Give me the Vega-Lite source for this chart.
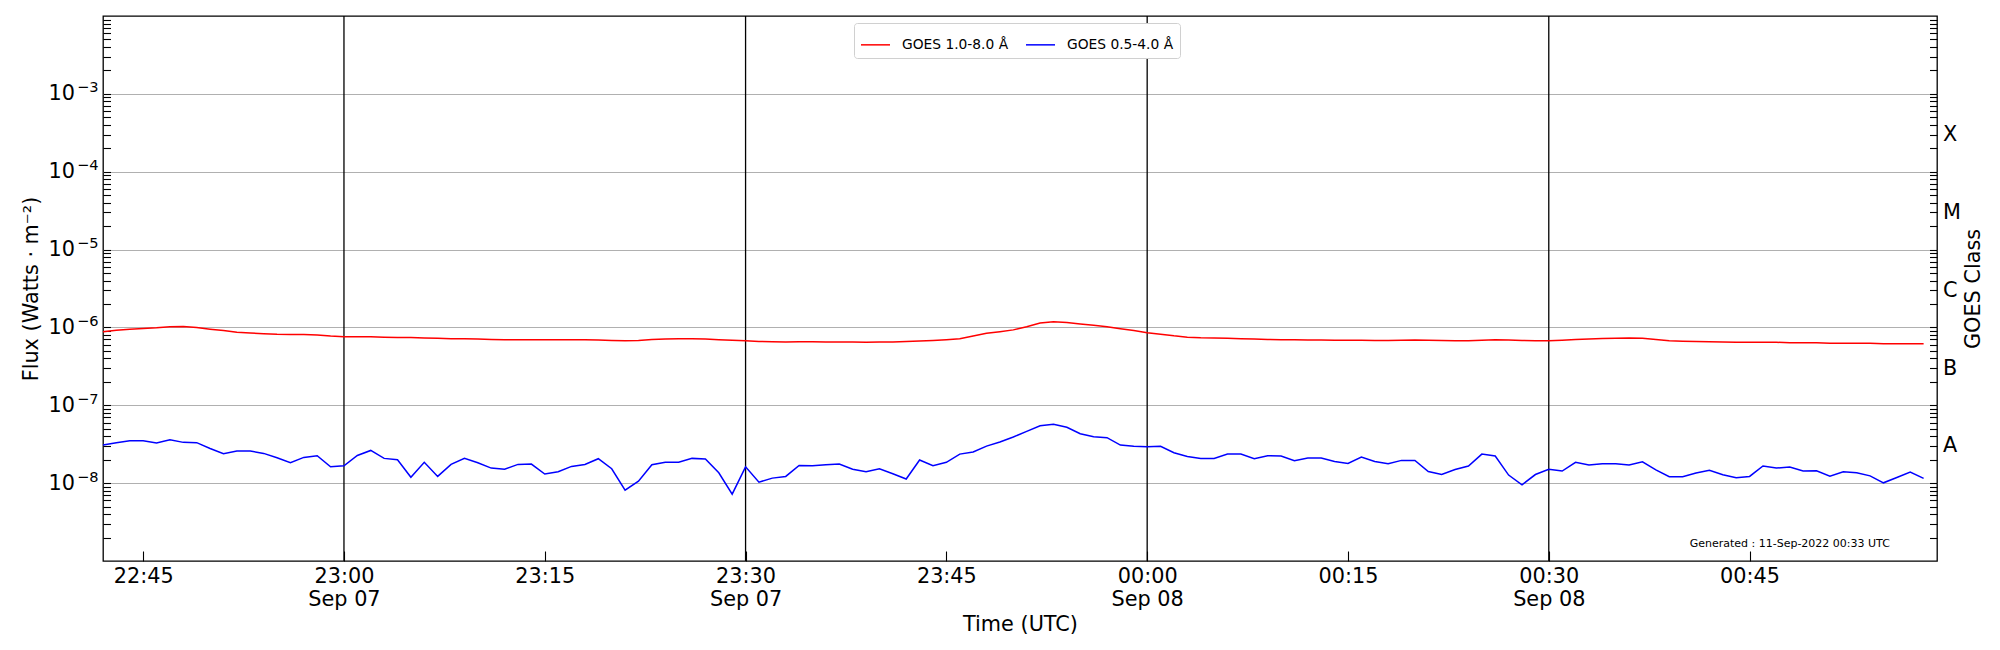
{
  "$schema": "https://vega.github.io/schema/vega-lite/v6.json",
  "width": 1834,
  "height": 545,
  "autosize": {"type": "none"},
  "padding": {"left": 103, "top": 16, "right": 63, "bottom": 89},
  "background": "white",
  "config": {
    "font": "DejaVu Sans",
    "view": {"stroke": "black", "strokeWidth": 1.3},
    "axis": {
      "domain": false,
      "labelFont": "DejaVu Sans",
      "titleFont": "DejaVu Sans",
      "labelFontSize": 20.8,
      "titleFontSize": 20.8,
      "titleFontWeight": "normal",
      "labelColor": "black",
      "titleColor": "black",
      "tickColor": "black",
      "tickWidth": 1.1
    },
    "legend": {
      "orient": "none",
      "legendX": 751,
      "legendY": 7,
      "direction": "horizontal",
      "symbolType": "stroke",
      "symbolSize": 841,
      "symbolStrokeWidth": 1.5,
      "labelFont": "DejaVu Sans",
      "labelFontSize": 13.8,
      "labelColor": "black",
      "labelOffset": 11,
      "columnPadding": 14,
      "padding": 6,
      "strokeColor": "#d0d0d0",
      "fillColor": "white",
      "cornerRadius": 3
    }
  },
  "data": {"values": [
    {"time": "2022-09-07T22:42:00Z", "xrsb": 8.8e-7, "xrsa": 3.08e-8},
    {"time": "2022-09-07T22:43:00Z", "xrsb": 9.2e-7, "xrsa": 3.31e-8},
    {"time": "2022-09-07T22:44:00Z", "xrsb": 9.5e-7, "xrsa": 3.51e-8},
    {"time": "2022-09-07T22:45:00Z", "xrsb": 9.7e-7, "xrsa": 3.51e-8},
    {"time": "2022-09-07T22:46:00Z", "xrsb": 9.9e-7, "xrsa": 3.27e-8},
    {"time": "2022-09-07T22:47:00Z", "xrsb": 1.02e-6, "xrsa": 3.61e-8},
    {"time": "2022-09-07T22:48:00Z", "xrsb": 1.03e-6, "xrsa": 3.34e-8},
    {"time": "2022-09-07T22:49:00Z", "xrsb": 1.0e-6, "xrsa": 3.31e-8},
    {"time": "2022-09-07T22:50:00Z", "xrsb": 9.5e-7, "xrsa": 2.79e-8},
    {"time": "2022-09-07T22:51:00Z", "xrsb": 9.1e-7, "xrsa": 2.39e-8},
    {"time": "2022-09-07T22:52:00Z", "xrsb": 8.7e-7, "xrsa": 2.58e-8},
    {"time": "2022-09-07T22:53:00Z", "xrsb": 8.5e-7, "xrsa": 2.58e-8},
    {"time": "2022-09-07T22:54:00Z", "xrsb": 8.3e-7, "xrsa": 2.41e-8},
    {"time": "2022-09-07T22:55:00Z", "xrsb": 8.15e-7, "xrsa": 2.12e-8},
    {"time": "2022-09-07T22:56:00Z", "xrsb": 8.1e-7, "xrsa": 1.83e-8},
    {"time": "2022-09-07T22:57:00Z", "xrsb": 8.1e-7, "xrsa": 2.14e-8},
    {"time": "2022-09-07T22:58:00Z", "xrsb": 8.0e-7, "xrsa": 2.25e-8},
    {"time": "2022-09-07T22:59:00Z", "xrsb": 7.75e-7, "xrsa": 1.62e-8},
    {"time": "2022-09-07T23:00:00Z", "xrsb": 7.6e-7, "xrsa": 1.67e-8},
    {"time": "2022-09-07T23:01:00Z", "xrsb": 7.6e-7, "xrsa": 2.27e-8},
    {"time": "2022-09-07T23:02:00Z", "xrsb": 7.6e-7, "xrsa": 2.63e-8},
    {"time": "2022-09-07T23:03:00Z", "xrsb": 7.5e-7, "xrsa": 2.08e-8},
    {"time": "2022-09-07T23:04:00Z", "xrsb": 7.45e-7, "xrsa": 2.0e-8},
    {"time": "2022-09-07T23:05:00Z", "xrsb": 7.4e-7, "xrsa": 1.19e-8},
    {"time": "2022-09-07T23:06:00Z", "xrsb": 7.3e-7, "xrsa": 1.85e-8},
    {"time": "2022-09-07T23:07:00Z", "xrsb": 7.25e-7, "xrsa": 1.22e-8},
    {"time": "2022-09-07T23:08:00Z", "xrsb": 7.15e-7, "xrsa": 1.74e-8},
    {"time": "2022-09-07T23:09:00Z", "xrsb": 7.15e-7, "xrsa": 2.08e-8},
    {"time": "2022-09-07T23:10:00Z", "xrsb": 7.1e-7, "xrsa": 1.83e-8},
    {"time": "2022-09-07T23:11:00Z", "xrsb": 7.0e-7, "xrsa": 1.56e-8},
    {"time": "2022-09-07T23:12:00Z", "xrsb": 6.95e-7, "xrsa": 1.51e-8},
    {"time": "2022-09-07T23:13:00Z", "xrsb": 6.95e-7, "xrsa": 1.74e-8},
    {"time": "2022-09-07T23:14:00Z", "xrsb": 6.95e-7, "xrsa": 1.76e-8},
    {"time": "2022-09-07T23:15:00Z", "xrsb": 6.95e-7, "xrsa": 1.31e-8},
    {"time": "2022-09-07T23:16:00Z", "xrsb": 6.95e-7, "xrsa": 1.4e-8},
    {"time": "2022-09-07T23:17:00Z", "xrsb": 6.95e-7, "xrsa": 1.64e-8},
    {"time": "2022-09-07T23:18:00Z", "xrsb": 6.95e-7, "xrsa": 1.74e-8},
    {"time": "2022-09-07T23:19:00Z", "xrsb": 6.9e-7, "xrsa": 2.06e-8},
    {"time": "2022-09-07T23:20:00Z", "xrsb": 6.8e-7, "xrsa": 1.53e-8},
    {"time": "2022-09-07T23:21:00Z", "xrsb": 6.75e-7, "xrsa": 8.13e-9},
    {"time": "2022-09-07T23:22:00Z", "xrsb": 6.8e-7, "xrsa": 1.06e-8},
    {"time": "2022-09-07T23:23:00Z", "xrsb": 7.0e-7, "xrsa": 1.72e-8},
    {"time": "2022-09-07T23:24:00Z", "xrsb": 7.1e-7, "xrsa": 1.86e-8},
    {"time": "2022-09-07T23:25:00Z", "xrsb": 7.15e-7, "xrsa": 1.85e-8},
    {"time": "2022-09-07T23:26:00Z", "xrsb": 7.15e-7, "xrsa": 2.08e-8},
    {"time": "2022-09-07T23:27:00Z", "xrsb": 7.1e-7, "xrsa": 2.04e-8},
    {"time": "2022-09-07T23:28:00Z", "xrsb": 6.95e-7, "xrsa": 1.36e-8},
    {"time": "2022-09-07T23:29:00Z", "xrsb": 6.85e-7, "xrsa": 7.22e-9},
    {"time": "2022-09-07T23:30:00Z", "xrsb": 6.75e-7, "xrsa": 1.62e-8},
    {"time": "2022-09-07T23:31:00Z", "xrsb": 6.6e-7, "xrsa": 1.03e-8},
    {"time": "2022-09-07T23:32:00Z", "xrsb": 6.55e-7, "xrsa": 1.16e-8},
    {"time": "2022-09-07T23:33:00Z", "xrsb": 6.5e-7, "xrsa": 1.22e-8},
    {"time": "2022-09-07T23:34:00Z", "xrsb": 6.55e-7, "xrsa": 1.69e-8},
    {"time": "2022-09-07T23:35:00Z", "xrsb": 6.55e-7, "xrsa": 1.67e-8},
    {"time": "2022-09-07T23:36:00Z", "xrsb": 6.5e-7, "xrsa": 1.72e-8},
    {"time": "2022-09-07T23:37:00Z", "xrsb": 6.5e-7, "xrsa": 1.76e-8},
    {"time": "2022-09-07T23:38:00Z", "xrsb": 6.5e-7, "xrsa": 1.51e-8},
    {"time": "2022-09-07T23:39:00Z", "xrsb": 6.45e-7, "xrsa": 1.4e-8},
    {"time": "2022-09-07T23:40:00Z", "xrsb": 6.5e-7, "xrsa": 1.53e-8},
    {"time": "2022-09-07T23:41:00Z", "xrsb": 6.5e-7, "xrsa": 1.32e-8},
    {"time": "2022-09-07T23:42:00Z", "xrsb": 6.6e-7, "xrsa": 1.13e-8},
    {"time": "2022-09-07T23:43:00Z", "xrsb": 6.7e-7, "xrsa": 1.98e-8},
    {"time": "2022-09-07T23:44:00Z", "xrsb": 6.8e-7, "xrsa": 1.67e-8},
    {"time": "2022-09-07T23:45:00Z", "xrsb": 6.95e-7, "xrsa": 1.85e-8},
    {"time": "2022-09-07T23:46:00Z", "xrsb": 7.15e-7, "xrsa": 2.36e-8},
    {"time": "2022-09-07T23:47:00Z", "xrsb": 7.75e-7, "xrsa": 2.51e-8},
    {"time": "2022-09-07T23:48:00Z", "xrsb": 8.4e-7, "xrsa": 2.99e-8},
    {"time": "2022-09-07T23:49:00Z", "xrsb": 8.8e-7, "xrsa": 3.37e-8},
    {"time": "2022-09-07T23:50:00Z", "xrsb": 9.3e-7, "xrsa": 3.91e-8},
    {"time": "2022-09-07T23:51:00Z", "xrsb": 1.02e-6, "xrsa": 4.63e-8},
    {"time": "2022-09-07T23:52:00Z", "xrsb": 1.14e-6, "xrsa": 5.47e-8},
    {"time": "2022-09-07T23:53:00Z", "xrsb": 1.18e-6, "xrsa": 5.69e-8},
    {"time": "2022-09-07T23:54:00Z", "xrsb": 1.16e-6, "xrsa": 5.21e-8},
    {"time": "2022-09-07T23:55:00Z", "xrsb": 1.11e-6, "xrsa": 4.32e-8},
    {"time": "2022-09-07T23:56:00Z", "xrsb": 1.07e-6, "xrsa": 3.95e-8},
    {"time": "2022-09-07T23:57:00Z", "xrsb": 1.02e-6, "xrsa": 3.84e-8},
    {"time": "2022-09-07T23:58:00Z", "xrsb": 9.6e-7, "xrsa": 3.08e-8},
    {"time": "2022-09-07T23:59:00Z", "xrsb": 9.1e-7, "xrsa": 2.97e-8},
    {"time": "2022-09-08T00:00:00Z", "xrsb": 8.55e-7, "xrsa": 2.94e-8},
    {"time": "2022-09-08T00:01:00Z", "xrsb": 8.2e-7, "xrsa": 2.97e-8},
    {"time": "2022-09-08T00:02:00Z", "xrsb": 7.8e-7, "xrsa": 2.46e-8},
    {"time": "2022-09-08T00:03:00Z", "xrsb": 7.5e-7, "xrsa": 2.2e-8},
    {"time": "2022-09-08T00:04:00Z", "xrsb": 7.35e-7, "xrsa": 2.08e-8},
    {"time": "2022-09-08T00:05:00Z", "xrsb": 7.3e-7, "xrsa": 2.08e-8},
    {"time": "2022-09-08T00:06:00Z", "xrsb": 7.25e-7, "xrsa": 2.36e-8},
    {"time": "2022-09-08T00:07:00Z", "xrsb": 7.15e-7, "xrsa": 2.36e-8},
    {"time": "2022-09-08T00:08:00Z", "xrsb": 7.1e-7, "xrsa": 2.06e-8},
    {"time": "2022-09-08T00:09:00Z", "xrsb": 7.0e-7, "xrsa": 2.25e-8},
    {"time": "2022-09-08T00:10:00Z", "xrsb": 6.95e-7, "xrsa": 2.23e-8},
    {"time": "2022-09-08T00:11:00Z", "xrsb": 6.95e-7, "xrsa": 1.94e-8},
    {"time": "2022-09-08T00:12:00Z", "xrsb": 6.9e-7, "xrsa": 2.1e-8},
    {"time": "2022-09-08T00:13:00Z", "xrsb": 6.9e-7, "xrsa": 2.1e-8},
    {"time": "2022-09-08T00:14:00Z", "xrsb": 6.85e-7, "xrsa": 1.9e-8},
    {"time": "2022-09-08T00:15:00Z", "xrsb": 6.85e-7, "xrsa": 1.79e-8},
    {"time": "2022-09-08T00:16:00Z", "xrsb": 6.85e-7, "xrsa": 2.16e-8},
    {"time": "2022-09-08T00:17:00Z", "xrsb": 6.8e-7, "xrsa": 1.9e-8},
    {"time": "2022-09-08T00:18:00Z", "xrsb": 6.8e-7, "xrsa": 1.77e-8},
    {"time": "2022-09-08T00:19:00Z", "xrsb": 6.85e-7, "xrsa": 1.96e-8},
    {"time": "2022-09-08T00:20:00Z", "xrsb": 6.9e-7, "xrsa": 1.96e-8},
    {"time": "2022-09-08T00:21:00Z", "xrsb": 6.85e-7, "xrsa": 1.41e-8},
    {"time": "2022-09-08T00:22:00Z", "xrsb": 6.8e-7, "xrsa": 1.29e-8},
    {"time": "2022-09-08T00:23:00Z", "xrsb": 6.75e-7, "xrsa": 1.5e-8},
    {"time": "2022-09-08T00:24:00Z", "xrsb": 6.75e-7, "xrsa": 1.66e-8},
    {"time": "2022-09-08T00:25:00Z", "xrsb": 6.85e-7, "xrsa": 2.36e-8},
    {"time": "2022-09-08T00:26:00Z", "xrsb": 6.95e-7, "xrsa": 2.23e-8},
    {"time": "2022-09-08T00:27:00Z", "xrsb": 6.9e-7, "xrsa": 1.27e-8},
    {"time": "2022-09-08T00:28:00Z", "xrsb": 6.8e-7, "xrsa": 9.52e-9},
    {"time": "2022-09-08T00:29:00Z", "xrsb": 6.75e-7, "xrsa": 1.29e-8},
    {"time": "2022-09-08T00:30:00Z", "xrsb": 6.75e-7, "xrsa": 1.51e-8},
    {"time": "2022-09-08T00:31:00Z", "xrsb": 6.85e-7, "xrsa": 1.43e-8},
    {"time": "2022-09-08T00:32:00Z", "xrsb": 7.0e-7, "xrsa": 1.85e-8},
    {"time": "2022-09-08T00:33:00Z", "xrsb": 7.1e-7, "xrsa": 1.71e-8},
    {"time": "2022-09-08T00:34:00Z", "xrsb": 7.2e-7, "xrsa": 1.77e-8},
    {"time": "2022-09-08T00:35:00Z", "xrsb": 7.25e-7, "xrsa": 1.77e-8},
    {"time": "2022-09-08T00:36:00Z", "xrsb": 7.3e-7, "xrsa": 1.71e-8},
    {"time": "2022-09-08T00:37:00Z", "xrsb": 7.25e-7, "xrsa": 1.88e-8},
    {"time": "2022-09-08T00:38:00Z", "xrsb": 7.0e-7, "xrsa": 1.48e-8},
    {"time": "2022-09-08T00:39:00Z", "xrsb": 6.75e-7, "xrsa": 1.21e-8},
    {"time": "2022-09-08T00:40:00Z", "xrsb": 6.65e-7, "xrsa": 1.21e-8},
    {"time": "2022-09-08T00:41:00Z", "xrsb": 6.6e-7, "xrsa": 1.35e-8},
    {"time": "2022-09-08T00:42:00Z", "xrsb": 6.55e-7, "xrsa": 1.46e-8},
    {"time": "2022-09-08T00:43:00Z", "xrsb": 6.5e-7, "xrsa": 1.28e-8},
    {"time": "2022-09-08T00:44:00Z", "xrsb": 6.45e-7, "xrsa": 1.17e-8},
    {"time": "2022-09-08T00:45:00Z", "xrsb": 6.45e-7, "xrsa": 1.22e-8},
    {"time": "2022-09-08T00:46:00Z", "xrsb": 6.45e-7, "xrsa": 1.66e-8},
    {"time": "2022-09-08T00:47:00Z", "xrsb": 6.45e-7, "xrsa": 1.56e-8},
    {"time": "2022-09-08T00:48:00Z", "xrsb": 6.35e-7, "xrsa": 1.61e-8},
    {"time": "2022-09-08T00:49:00Z", "xrsb": 6.35e-7, "xrsa": 1.43e-8},
    {"time": "2022-09-08T00:50:00Z", "xrsb": 6.35e-7, "xrsa": 1.44e-8},
    {"time": "2022-09-08T00:51:00Z", "xrsb": 6.25e-7, "xrsa": 1.23e-8},
    {"time": "2022-09-08T00:52:00Z", "xrsb": 6.25e-7, "xrsa": 1.4e-8},
    {"time": "2022-09-08T00:53:00Z", "xrsb": 6.25e-7, "xrsa": 1.36e-8},
    {"time": "2022-09-08T00:54:00Z", "xrsb": 6.25e-7, "xrsa": 1.24e-8},
    {"time": "2022-09-08T00:55:00Z", "xrsb": 6.15e-7, "xrsa": 1.01e-8},
    {"time": "2022-09-08T00:56:00Z", "xrsb": 6.15e-7, "xrsa": 1.18e-8},
    {"time": "2022-09-08T00:57:00Z", "xrsb": 6.15e-7, "xrsa": 1.39e-8},
    {"time": "2022-09-08T00:58:00Z", "xrsb": 6.15e-7, "xrsa": 1.15e-8}
  ]},
  "encoding": {
    "x": {
      "field": "time", "type": "temporal",
      "scale": {"type": "utc", "domain": [
        {"year": 2022, "month": 9, "date": 7, "hours": 22, "minutes": 42, "utc": true},
        {"year": 2022, "month": 9, "date": 8, "hours": 0, "minutes": 59, "utc": true}
      ]},
      "axis": {
        "values": [
          {"year": 2022, "month": 9, "date": 7, "hours": 22, "minutes": 45, "utc": true},
          {"year": 2022, "month": 9, "date": 7, "hours": 23, "minutes": 0, "utc": true},
          {"year": 2022, "month": 9, "date": 7, "hours": 23, "minutes": 15, "utc": true},
          {"year": 2022, "month": 9, "date": 7, "hours": 23, "minutes": 30, "utc": true},
          {"year": 2022, "month": 9, "date": 7, "hours": 23, "minutes": 45, "utc": true},
          {"year": 2022, "month": 9, "date": 8, "hours": 0, "minutes": 0, "utc": true},
          {"year": 2022, "month": 9, "date": 8, "hours": 0, "minutes": 15, "utc": true},
          {"year": 2022, "month": 9, "date": 8, "hours": 0, "minutes": 30, "utc": true},
          {"year": 2022, "month": 9, "date": 8, "hours": 0, "minutes": 45, "utc": true}
        ],
        "labelExpr": "utcminutes(datum.value) % 30 == 0 ? [utcFormat(datum.value, '%H:%M'), utcFormat(datum.value, '%b %d')] : utcFormat(datum.value, '%H:%M')",
        "tickSize": -10,
        "labelPadding": 15,
        "labelLineHeight": 23,
        "labelOverlap": false,
        "labelFlush": false,
        "grid": false,
        "title": "Time (UTC)",
        "titlePadding": 6
      }
    }
  },
  "resolve": {"scale": {"x": "shared", "y": "shared", "color": "shared"}, "axis": {"y": "independent"}},
  "layer": [
    {
      "data": {"values": [
        {"time": "2022-09-07T23:00:00Z"},
        {"time": "2022-09-07T23:30:00Z"},
        {"time": "2022-09-08T00:00:00Z"},
        {"time": "2022-09-08T00:30:00Z"}
      ]},
      "mark": {"type": "rule", "color": "black", "strokeWidth": 1.3}
    },
    {
      "mark": {"type": "line", "strokeWidth": 1.5, "interpolate": "linear"},
      "encoding": {
        "y": {
          "field": "xrsb", "type": "quantitative",
          "scale": {"type": "log", "domain": [1e-9, 1e-2]},
          "axis": {
            "orient": "left",
            "values": [2e-9, 3e-9, 4e-9, 5e-9, 6e-9, 7e-9, 8e-9, 9e-9,
                       1e-8, 2e-8, 3e-8, 4e-8, 5e-8, 6e-8, 7e-8, 8e-8, 9e-8,
                       1e-7, 2e-7, 3e-7, 4e-7, 5e-7, 6e-7, 7e-7, 8e-7, 9e-7,
                       1e-6, 2e-6, 3e-6, 4e-6, 5e-6, 6e-6, 7e-6, 8e-6, 9e-6,
                       1e-5, 2e-5, 3e-5, 4e-5, 5e-5, 6e-5, 7e-5, 8e-5, 9e-5,
                       1e-4, 2e-4, 3e-4, 4e-4, 5e-4, 6e-4, 7e-4, 8e-4, 9e-4,
                       1e-3, 2e-3, 3e-3, 4e-3, 5e-3, 6e-3, 7e-3, 8e-3, 9e-3],
            "labelExpr": "abs(log(datum.value)/LN10 - round(log(datum.value)/LN10)) < 0.001 ? '10' : ''",
            "tickSize": -7.5,
            "labelPadding": 36,
            "labelOverlap": false,
            "labelBound": false,
            "labelFlush": false,
            "grid": true,
            "gridColor": "#b0b0b0",
            "gridWidth": 1,
            "gridOpacity": {"condition": {"test": "abs(log(datum.value)/LN10 - round(log(datum.value)/LN10)) < 0.001", "value": 1}, "value": 0},
            "title": "Flux (Watts · m⁻²)",
            "titlePadding": 7
          }
        },
        "color": {
          "datum": "GOES 1.0-8.0 Å", "type": "nominal",
          "scale": {"domain": ["GOES 1.0-8.0 Å", "GOES 0.5-4.0 Å"], "range": ["red", "blue"]},
          "legend": {"title": null}
        }
      }
    },
    {
      "mark": {"type": "line", "strokeWidth": 1.5, "interpolate": "linear"},
      "encoding": {
        "y": {
          "field": "xrsa", "type": "quantitative",
          "scale": {"type": "log", "domain": [1e-9, 1e-2]},
          "axis": {
            "orient": "left",
            "values": [1e-8, 1e-7, 1e-6, 1e-5, 1e-4, 1e-3],
            "labelExpr": "'−' + (-round(log(datum.value)/LN10))",
            "labelFontSize": 14.6,
            "labelOffset": -6,
            "ticks": false,
            "labelPadding": 5,
            "labelOverlap": false,
            "labelBound": false,
            "labelFlush": false,
            "grid": false,
            "title": null
          }
        },
        "color": {
          "datum": "GOES 0.5-4.0 Å", "type": "nominal",
          "scale": {"domain": ["GOES 1.0-8.0 Å", "GOES 0.5-4.0 Å"], "range": ["red", "blue"]},
          "legend": {"title": null}
        }
      }
    },
    {
      "data": {"values": [{"time": "2022-09-08T00:48:00Z"}]},
      "mark": {"type": "text", "fontSize": 11, "font": "DejaVu Sans", "color": "black", "align": "center", "baseline": "middle"},
      "encoding": {
        "y": {
          "datum": 1.65e-9,
          "type": "quantitative",
          "scale": {"type": "log", "domain": [1e-9, 1e-2]},
          "axis": {
            "orient": "right",
            "values": [2e-9, 3e-9, 4e-9, 5e-9, 6e-9, 7e-9, 8e-9, 9e-9,
                       1e-8, 2e-8, 3e-8, 4e-8, 5e-8, 6e-8, 7e-8, 8e-8, 9e-8,
                       1e-7, 2e-7, 3e-7, 4e-7, 5e-7, 6e-7, 7e-7, 8e-7, 9e-7,
                       1e-6, 2e-6, 3e-6, 4e-6, 5e-6, 6e-6, 7e-6, 8e-6, 9e-6,
                       1e-5, 2e-5, 3e-5, 4e-5, 5e-5, 6e-5, 7e-5, 8e-5, 9e-5,
                       1e-4, 2e-4, 3e-4, 4e-4, 5e-4, 6e-4, 7e-4, 8e-4, 9e-4,
                       1e-3, 2e-3, 3e-3, 4e-3, 5e-3, 6e-3, 7e-3, 8e-3, 9e-3],
            "labelExpr": "abs(datum.value / pow(10, floor(log(datum.value)/LN10)) - 3) < 0.01 && datum.value > 1e-8 && datum.value < 1e-3 ? ['A','B','C','M','X'][floor(log(datum.value)/LN10) + 8] : ''",
            "tickSize": -7.5,
            "labelPadding": 13,
            "labelOverlap": false,
            "labelBound": false,
            "labelFlush": false,
            "grid": false,
            "title": "GOES Class",
            "titleAngle": 270,
            "titleBaseline": "top",
            "titlePadding": 3
          }
        },
        "text": {"value": "Generated : 11-Sep-2022 00:33 UTC"}
      }
    }
  ]
}
